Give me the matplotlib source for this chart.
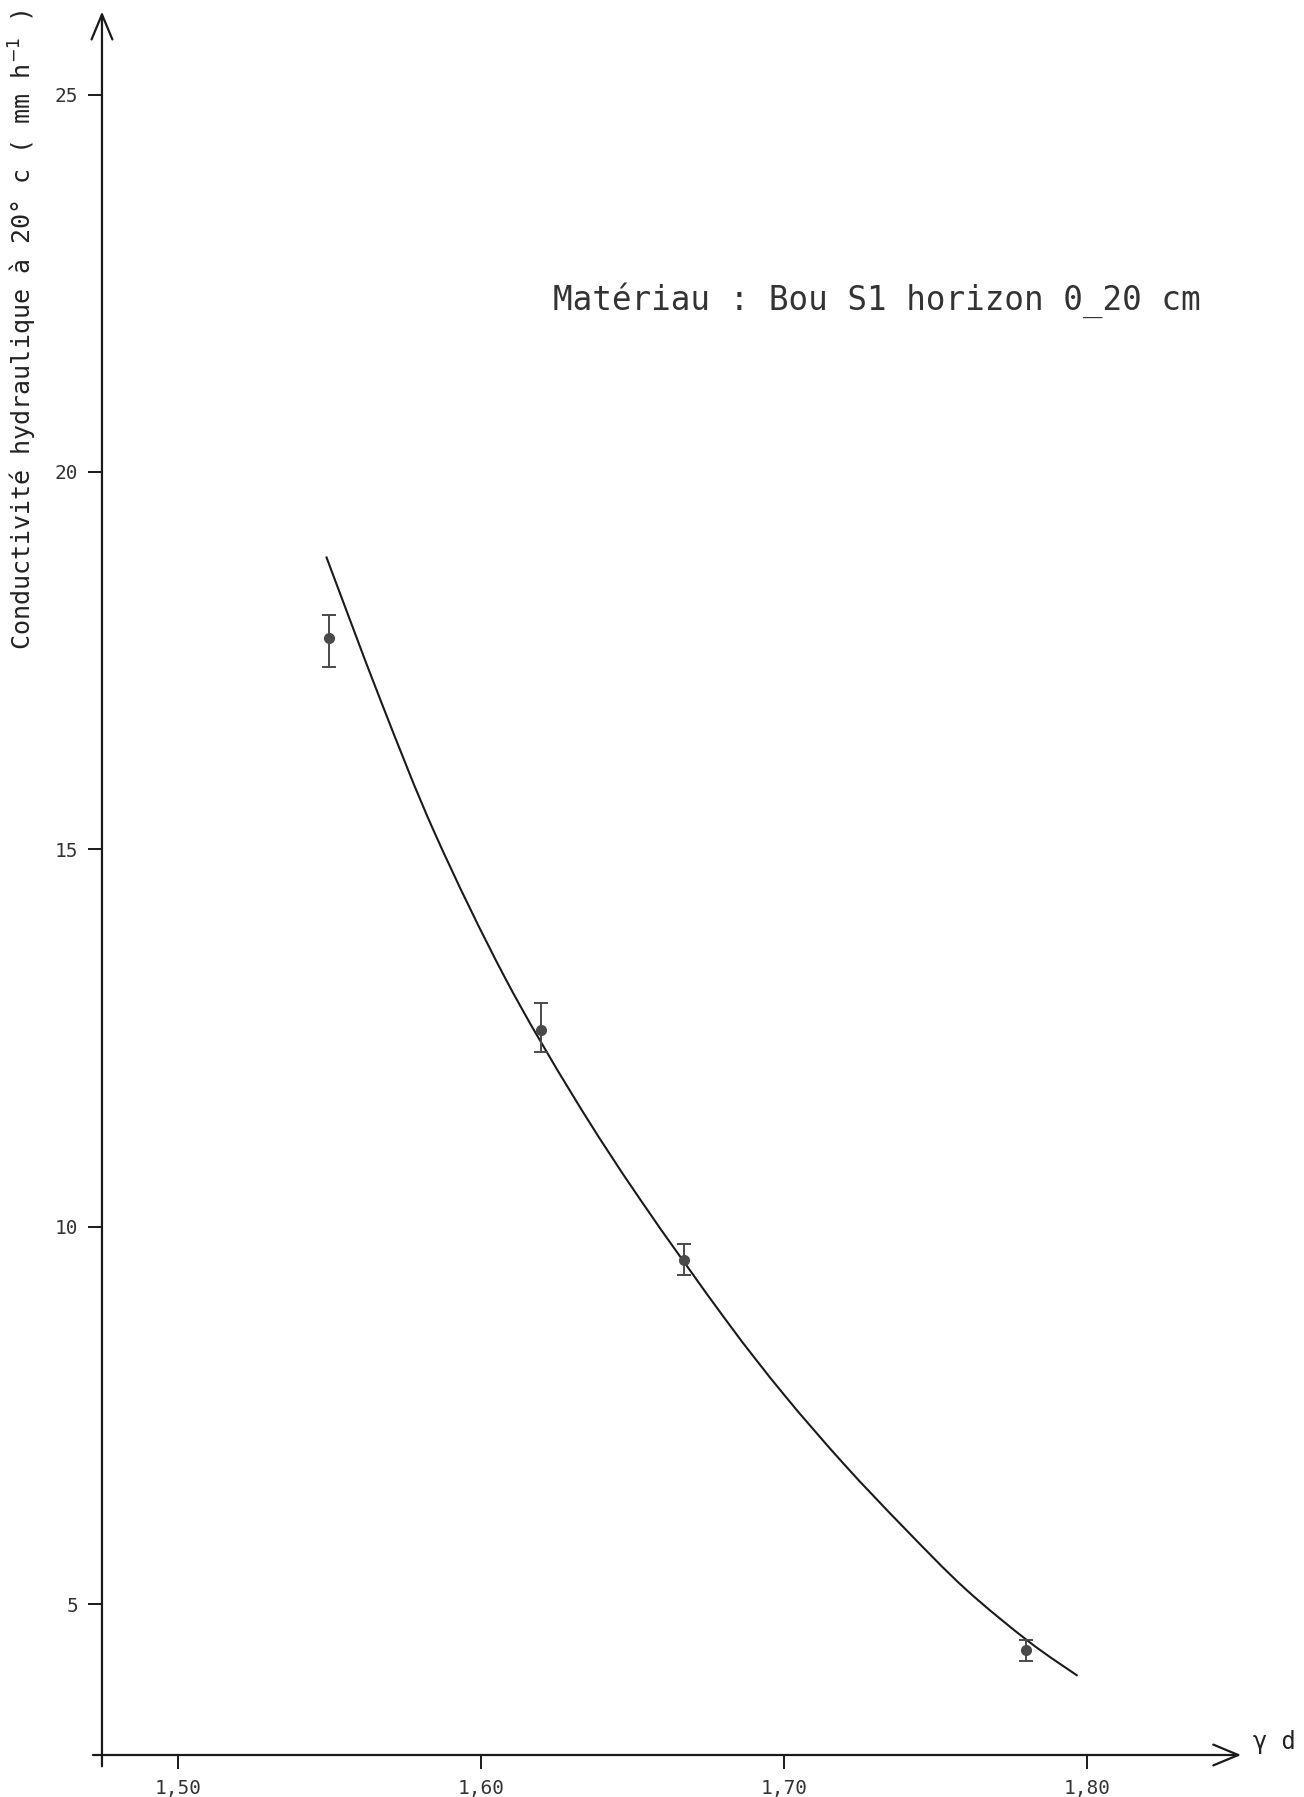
import numpy as np
import matplotlib
matplotlib.use("Agg")
import matplotlib.pyplot as plt
from matplotlib.path import Path
from matplotlib.patches import PathPatch

# measured points (bulk density, conductivity) with error bar ends
dens = [1.55, 1.62, 1.667, 1.78]
cond = [17.80, 12.61, 9.56, 4.39]
cond_hi = [18.11, 12.97, 9.77, 4.52]
cond_lo = [17.42, 12.32, 9.36, 4.25]

# fitted curve
curve_x = [1.549, 1.567, 1.585, 1.608, 1.631, 1.653, 1.681, 1.700, 1.720,
           1.740, 1.760, 1.781, 1.797]
curve_y = [18.88, 16.97, 15.20, 13.30, 11.70, 10.34, 8.76, 7.78, 6.85,
           6.00, 5.20, 4.50, 4.05]

xticks = [1.50, 1.60, 1.70, 1.80]
xticklabels = ['1,50', '1,60', '1,70', '1,80']
yticks = [5, 10, 15, 20, 25]
yticklabels = ['5', '10', '15', '20', '25']

mono = ['DejaVu Sans Mono', 'DejaVu Sans']
plt.rcParams['font.family'] = mono


def smooth_path(xs, ys):
    # catmull-rom through the read points, drawn as bezier segments
    p = np.column_stack([xs, ys])
    p = np.vstack([p[0], p, p[-1]])
    verts = [p[1]]
    codes = [Path.MOVETO]
    for i in range(1, len(p) - 2):
        c1 = p[i] + (p[i + 1] - p[i - 1]) / 6.0
        c2 = p[i + 1] - (p[i + 2] - p[i]) / 6.0
        verts += [c1, c2, p[i + 1]]
        codes += [Path.CURVE4] * 3
    return Path(verts, codes)


fig = plt.figure(figsize=(13.04, 17.97), dpi=100)
ax = fig.add_axes([0.0782, 0.02337, 0.8736, 0.9702])
xmin, xmax = 1.475, 1.851
ymin, ymax = 3.0, 26.1
ax.set_xlim(xmin, xmax)
ax.set_ylim(ymin, ymax)
for s in ax.spines.values():
    s.set_visible(False)

ink = '#1a1a1a'
arrow = dict(arrowstyle='->, head_length=0.6, head_width=0.25', lw=1.6,
             color=ink, mutation_scale=30, shrinkA=0, shrinkB=0)
ax.annotate('', xy=(xmax, ymin), xytext=(1.472, ymin), arrowprops=arrow,
            annotation_clip=False)
ax.annotate('', xy=(xmin, ymax), xytext=(xmin, 2.85), arrowprops=arrow,
            annotation_clip=False)

ax.set_xticks(xticks)
ax.set_xticklabels(xticklabels)
ax.set_yticks(yticks)
ax.set_yticklabels(yticklabels)
ax.tick_params(axis='both', direction='out', length=10, width=1.4,
               colors=ink, labelsize=14, labelcolor='#333333', pad=7)
ax.tick_params(top=False, right=False)

ax.add_patch(PathPatch(smooth_path(curve_x, curve_y), facecolor='none',
                       edgecolor=ink, lw=1.5, clip_on=False))

err = [np.array(cond) - np.array(cond_lo), np.array(cond_hi) - np.array(cond)]
ax.errorbar(dens, cond, yerr=err, fmt='o', color='#4a4a4a', ms=7,
            ecolor='#4a4a4a', elinewidth=1.4, capsize=5, capthick=1.4)

fig.text(0.0176, 0.8164, 'Conductivité hydraulique à 20° c ( mm h$^{-1}$ )',
         rotation=90, ha='center', va='center', fontsize=18, color='#222222')
fig.text(0.424, 0.833, 'Matériau : Bou S1 horizon 0_20 cm',
         ha='left', va='center', fontsize=23.5, color='#333333')
fig.text(0.961, 0.0305, 'γ d', ha='left', va='center', fontsize=17,
         color='#222222')

fig.savefig('out.png', dpi=100, facecolor='white')
